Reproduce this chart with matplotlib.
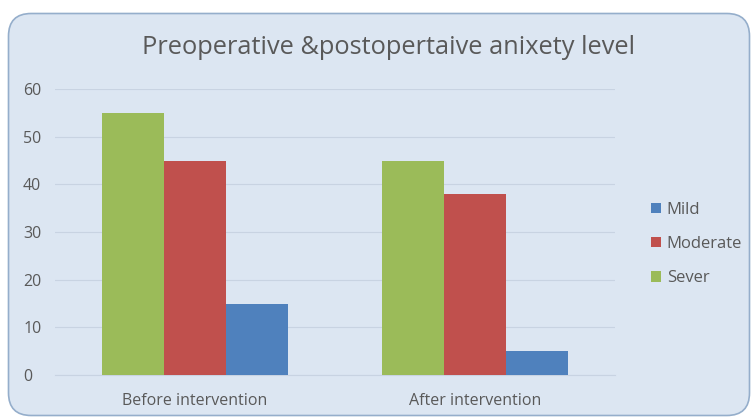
import matplotlib
matplotlib.use("Agg")
import matplotlib.pyplot as plt
import numpy as np
from matplotlib.patches import FancyBboxPatch

# data
categories = ["Before intervention", "After intervention"]
series_names = ["Sever", "Moderate", "Mild"]
sever = [55, 45]
moderate = [45, 38]
mild = [15, 5]

colors = {"Mild": "#4F81BD", "Moderate": "#C0504D", "Sever": "#9BBB59"}
text_col = "#595959"
bg = "#DCE6F2"

plt.rcParams['font.family'] = ['Open Sans', 'DejaVu Sans']

fig = plt.figure(figsize=(7.55, 4.17), dpi=100)
fig.patch.set_facecolor("white")

# rounded chart background
box = FancyBboxPatch((8.5 / 755, 1.5 / 417), 741 / 755, 402 / 417,
                     boxstyle="round,pad=0,rounding_size=0.03",
                     transform=fig.transFigure, facecolor=bg,
                     edgecolor="#95AECB", linewidth=1.2,
                     mutation_aspect=755 / 417, zorder=-5)
fig.patches.append(box)

ax = fig.add_axes([55 / 755, 1 - 375 / 417, 560 / 755, 286 / 417])
ax.set_facecolor("none")
ax.set_zorder(2)

x = np.arange(len(categories))
w = 0.222
ax.bar(x - w, sever, w, color=colors["Sever"], label="Sever", zorder=3)
ax.bar(x, moderate, w, color=colors["Moderate"], label="Moderate", zorder=3)
ax.bar(x + w, mild, w, color=colors["Mild"], label="Mild", zorder=3)

ax.set_xlim(-0.5, 1.5)
ax.set_ylim(0, 60)
ax.set_yticks(range(0, 61, 10))
ax.yaxis.grid(True, color="#C8D3E2", linewidth=0.8, zorder=0)
ax.set_axisbelow(True)
ax.set_xticks(x)
ax.set_xticklabels(categories)
for s in ["top", "right", "left"]:
    ax.spines[s].set_visible(False)
ax.spines["bottom"].set_color("#C8D3E2")
ax.tick_params(axis="both", length=0, colors=text_col, labelsize=11.5)
ax.tick_params(axis="x", pad=13)
ax.tick_params(axis="y", pad=23)
for t in ax.get_yticklabels():
    t.set_ha("left")

fig.text(389 / 755, 1 - 48 / 417, "Preoperative &postopertaive anixety level",
         ha="center", va="center", fontsize=18.3, color=text_col)

handles, labels = ax.get_legend_handles_labels()
order = [2, 1, 0]
leg = fig.legend([handles[i] for i in order], [labels[i] for i in order],
                 loc="center left", bbox_to_anchor=(636 / 755, 1 - 244 / 417),
                 frameon=False, fontsize=12, handlelength=0.6, handleheight=0.6,
                 handletextpad=0.35, labelspacing=1.1, labelcolor=text_col)

fig.savefig("out.png", dpi=100, facecolor=fig.get_facecolor())
